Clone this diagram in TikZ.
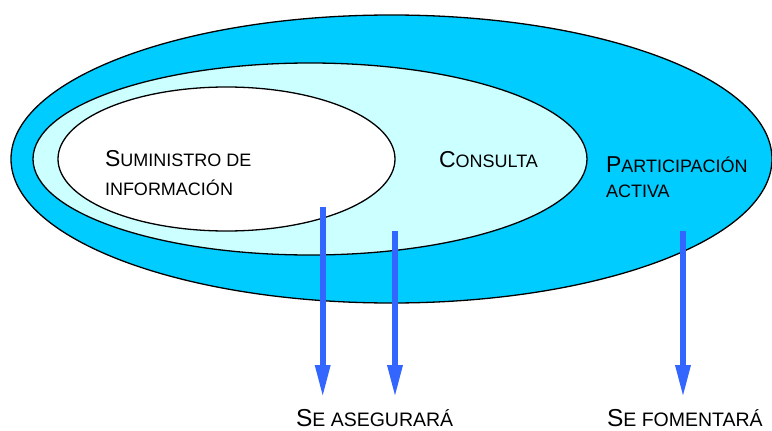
\documentclass[tikz,border=0pt]{standalone}
\usepackage{fontspec}
\setmainfont{Liberation Sans}
\usetikzlibrary{shapes.geometric,arrows.meta}
\definecolor{outerblue}{HTML}{00CCFF}
\definecolor{paleblue}{HTML}{CCFFFF}
\definecolor{arrowblue}{HTML}{3366FF}
\newcommand{\fakescA}[2]{{\fontsize{23}{27}\selectfont #1}{\fontsize{18}{22}\selectfont #2}}
\newcommand{\fakescB}[2]{{\fontsize{24.5}{29}\selectfont #1}{\fontsize{19.5}{23}\selectfont #2}}
\tikzset{
  zone/.style={ellipse, draw=black, line width=1.3pt, inner sep=0pt, outer sep=0pt},
  label/.style={anchor=base west, inner sep=0pt, outer sep=0pt, text=black},
  bluearrow/.style={draw=arrowblue, line width=6pt, -{Triangle[width=14pt,length=33pt]}}
}
\begin{document}
\begin{tikzpicture}[x=1pt,y=-1pt]
\useasboundingbox (0,0) rectangle (772,431);
\node[zone, fill=outerblue, minimum width=761pt, minimum height=288pt] (outer) at (391.5,159) {};
\node[zone, fill=paleblue, minimum width=554pt, minimum height=192pt] (middle) at (310,159) {};
\node[zone, fill=white, minimum width=337pt, minimum height=144pt] (inner) at (226.5,159) {};

\node[label] (sum1) at (105,166) {\fakescA{S}{UMINISTRO DE}};
\node[label] (sum2) at (105,195) {\fakescA{}{INFORMACIÓN}};
\node[label] (cons) at (439,167) {\fakescA{C}{ONSULTA}};
\node[label] (part1) at (606,172) {\fakescA{P}{ARTICIPACIÓN}};
\node[label] (part2) at (606,197) {\fakescA{}{ACTIVA}};

\node[label] (aseg) at (296,426) {\fakescB{S}{E ASEGURARÁ}};
\node[label] (fom) at (607,426) {\fakescB{S}{E FOMENTARÁ}};

\coordinate (a1s) at (322.7,207);
\coordinate (a1e) at (322.7,398);
\coordinate (a2s) at (395,231);
\coordinate (a2e) at (395,398);
\coordinate (a3s) at (683,231);
\coordinate (a3e) at (683,398);
\draw[bluearrow] (a1s) -- (a1e);
\draw[bluearrow] (a2s) -- (a2e);
\draw[bluearrow] (a3s) -- (a3e);
\end{tikzpicture}
\end{document}
